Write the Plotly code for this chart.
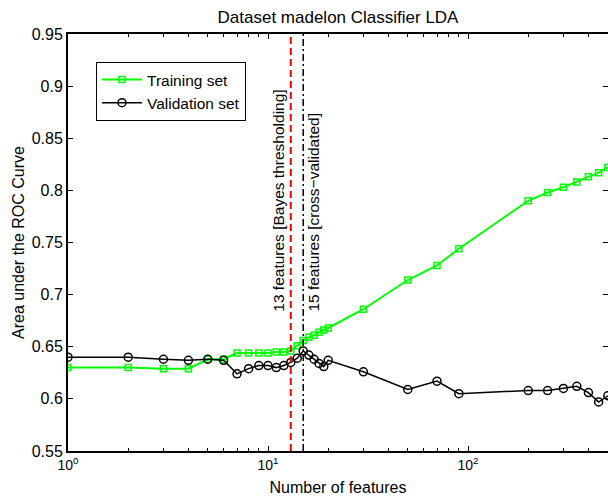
import math
import plotly.graph_objects as go

# ---- data ----
n_features = [1, 2, 3, 4, 5, 6, 7, 8, 9, 10, 11, 12, 13, 14, 15, 16, 17, 18, 19, 20,
              30, 50, 70, 90, 200, 250, 300, 350, 400, 450, 500]
training_auc = [0.630, 0.630, 0.629, 0.629, 0.638, 0.638, 0.644, 0.644, 0.644, 0.644,
                0.645, 0.645, 0.646, 0.651, 0.656, 0.659, 0.661, 0.664, 0.666, 0.668,
                0.686, 0.714, 0.728, 0.744, 0.790, 0.798, 0.803, 0.808, 0.813, 0.817, 0.822]
validation_auc = [0.640, 0.640, 0.638, 0.637, 0.638, 0.637, 0.624, 0.629, 0.632, 0.632,
                  0.630, 0.632, 0.635, 0.639, 0.646, 0.642, 0.638, 0.634, 0.631, 0.637,
                  0.626, 0.609, 0.617, 0.605, 0.608, 0.608, 0.610, 0.612, 0.606, 0.597, 0.603]
bayes_k = 13
cv_k = 15
y_range = [0.55, 0.95]
x_range_log = [0, 2.7]
y_ticks = [0.55, 0.6, 0.65, 0.7, 0.75, 0.8, 0.85, 0.9, 0.95]
y_ticklabels = ["0.55", "0.6", "0.65", "0.7", "0.75", "0.8", "0.85", "0.9", "0.95"]
x_ticks = [1, 10, 100]
x_ticklabels = ["10<sup>0</sup>", "10<sup>1</sup>", "10<sup>2</sup>"]
label_y = 0.682

FONT = "Liberation Sans, Arial, sans-serif"

fig = go.Figure()
fig.add_trace(go.Scatter(
    x=n_features, y=training_auc, mode="lines+markers", name="Training set",
    line=dict(color="#00ff00", width=2),
    marker=dict(symbol="square-open", size=6, color="#00ff00", line=dict(width=1.5, color="#00ff00")),
))
fig.add_trace(go.Scatter(
    x=n_features, y=validation_auc, mode="lines+markers", name="Validation set",
    line=dict(color="black", width=1.5),
    marker=dict(symbol="circle-open", size=8, color="black", line=dict(width=1.5, color="black")),
))
fig.add_trace(go.Scatter(
    x=[bayes_k, bayes_k], y=y_range, mode="lines", showlegend=False,
    line=dict(color="#ff0000", width=2, dash="7px,4px"),
))
fig.add_trace(go.Scatter(
    x=[cv_k, cv_k], y=y_range, mode="lines", showlegend=False,
    line=dict(color="black", width=1.5, dash="7px,3px,2px,3px"),
))
# empty trace to host the mirrored (top/right) axes
fig.add_trace(go.Scatter(x=[], y=[], xaxis="x2", yaxis="y2", showlegend=False))

fig.add_annotation(
    x=math.log10(bayes_k), y=label_y, xref="x", yref="y",
    text=f"{bayes_k} features [Bayes thresholding]", textangle=-90, showarrow=False,
    xanchor="right", yanchor="bottom", xshift=-2,
    font=dict(family=FONT, size=15.5, color="black"),
)
fig.add_annotation(
    x=math.log10(cv_k), y=label_y, xref="x", yref="y",
    text=f"{cv_k} features [cross\u2212validated]", textangle=-90, showarrow=False,
    xanchor="left", yanchor="bottom", xshift=0,
    font=dict(family=FONT, size=15.5, color="black"),
)

axis_common = dict(showgrid=False, zeroline=False, ticks="inside", tickcolor="black",
                   linecolor="black", linewidth=2, tickwidth=1.2, automargin=False)

fig.update_layout(
    width=608, height=500,
    margin=dict(l=68, r=0, t=34, b=49, autoexpand=False),
    paper_bgcolor="white", plot_bgcolor="white",
    font=dict(family=FONT, color="black"),
    title=dict(text="Dataset madelon Classifier LDA", x=0.5, xref="paper",
               y=1 - 17.5 / 500, yanchor="middle", font=dict(size=17, family=FONT),
               automargin=False),
    xaxis=dict(type="log", range=x_range_log, showline=True, ticklen=5,
               tickvals=x_ticks, ticktext=x_ticklabels, tickfont=dict(size=14),
               minor=dict(ticks="inside", ticklen=3, dtick="D1", tickcolor="black", showgrid=False),
               title=dict(text="Number of features", font=dict(size=16), standoff=10),
               **axis_common),
    yaxis=dict(range=y_range, showline=True, ticklen=5, tickvals=y_ticks, ticktext=y_ticklabels,
               tickfont=dict(size=16),
               title=dict(text="Area under the ROC Curve", font=dict(size=16), standoff=3),
               **axis_common),
    xaxis2=dict(type="log", range=x_range_log, overlaying="x", side="top", anchor="y2",
                showline=True, ticklen=5, tickvals=x_ticks, showticklabels=False,
                minor=dict(ticks="inside", ticklen=3, dtick="D1", tickcolor="black", showgrid=False),
                **axis_common),
    yaxis2=dict(range=y_range, overlaying="y", side="right", anchor="x2",
                ticklen=5, tickvals=y_ticks, showticklabels=False,
                **{**axis_common, "linewidth": 0}, showline=False),
    legend=dict(x=(96 - 68) / 540, y=1 - (62 - 34) / 417, xanchor="left", yanchor="top",
                bgcolor="white", bordercolor="black", borderwidth=1, itemwidth=40,
                font=dict(size=15.5, family=FONT), tracegroupgap=0),
    showlegend=True,
)

fig.write_html(
    "out.html",
    config={"displayModeBar": False},
    post_script="document.body.style.margin='0';document.body.style.padding='0';"
                "document.body.style.overflow='hidden';",
)
